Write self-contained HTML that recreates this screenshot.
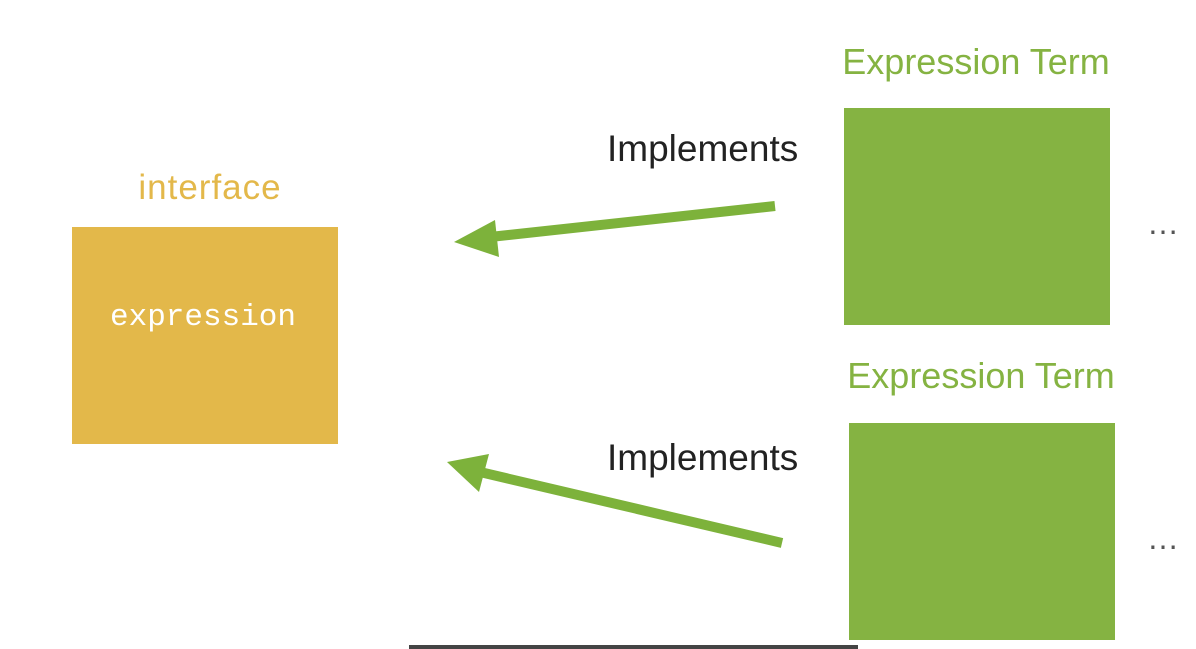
<!DOCTYPE html>
<html><head><style>
body{margin:0;width:1196px;height:649px;background:#fff;position:relative;overflow:hidden;font-family:"Liberation Sans",sans-serif}
.a{position:absolute;white-space:nowrap}
</style></head><body>
<div class="a" style="left:72px;top:227px;width:266px;height:217px;background:#E3B84A"></div>
<div class="a" style="left:844px;top:108px;width:266px;height:217px;background:#85B342"></div>
<div class="a" style="left:849px;top:423px;width:266px;height:217px;background:#85B342"></div>
<div class="a" style="left:409px;top:645px;width:449px;height:4px;background:#444"></div>
<div class="a" style="left:60px;width:300px;text-align:center;top:168px;font-size:35px;color:#E3B84A;letter-spacing:1px">interface</div>
<div class="a" style="left:72px;width:262px;text-align:center;top:300px;font-size:31px;color:#fff;font-family:'Liberation Mono',monospace">expression</div>
<div class="a" style="left:826px;width:300px;text-align:center;top:41px;font-size:36px;color:#85B342">Expression Term</div>
<div class="a" style="left:831px;width:300px;text-align:center;top:355px;font-size:36px;color:#85B342">Expression Term</div>
<div class="a" style="left:607px;top:128px;font-size:37px;color:#222">Implements</div>
<div class="a" style="left:607px;top:437px;font-size:37px;color:#222">Implements</div>
<div class="a" style="left:1147px;top:205px;font-size:32px;color:#555;letter-spacing:2px">…</div>
<div class="a" style="left:1147px;top:520px;font-size:32px;color:#555;letter-spacing:2px">…</div>
<svg class="a" style="left:0;top:0" width="1196" height="649">
<line x1="775" y1="206" x2="490" y2="237" stroke="#7DB23B" stroke-width="10"/>
<polygon points="454,242 495,220 499,257" fill="#7DB23B"/>
<line x1="782" y1="543" x2="480" y2="472" stroke="#7DB23B" stroke-width="10"/>
<polygon points="447,462 489,454 479,492" fill="#7DB23B"/>
</svg>
</body></html>
